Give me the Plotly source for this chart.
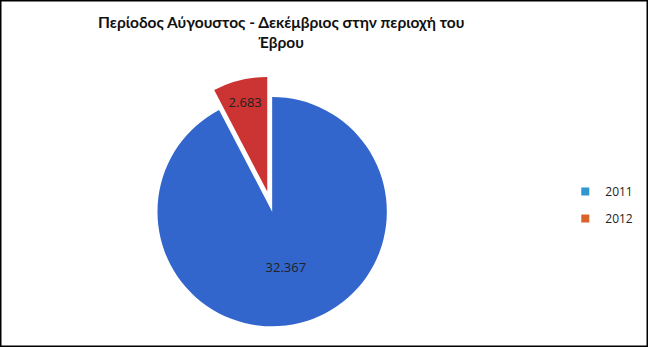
import plotly.graph_objects as go

# Data
years = ["2011", "2012"]
values = [32367, 2683]
slice_colors = ["#3366CC", "#CC3333"]
legend_colors = ["#2E97D0", "#D9622B"]
title_text = "Περίοδος Αύγουστος - Δεκέμβριος στην περιοχή του<br>Έβρου"

fig = go.Figure()

fig.add_trace(go.Pie(
    labels=years,
    values=values,
    sort=False,
    direction="clockwise",
    rotation=0,
    pull=[0, 0.18],
    marker=dict(colors=slice_colors, line=dict(width=0)),
    texttemplate="%{value:,}",
    textposition="inside",
    insidetextorientation="horizontal",
    textfont=dict(family="Open Sans", size=13, color="#222222"),
    hoverinfo="label+value",
    showlegend=False,
    domain=dict(x=[0.18, 0.66], y=[0.0, 0.78]),
))

# legend entries (colors as shown in the reference legend)
for yr, c in zip(years, legend_colors):
    fig.add_trace(go.Scatter(
        x=[None], y=[None], mode="markers", name=yr, legendgroup=yr,
        marker=dict(symbol="square", size=8, color=c),
        showlegend=True,
    ))

fig.update_layout(
    width=648, height=347,
    margin=dict(l=0, r=0, t=0, b=0),
    paper_bgcolor="white", plot_bgcolor="white",
    separators=",.",
    title=dict(
        text=title_text,
        x=0.434, xanchor="center",
        y=0.92, yanchor="top",
        font=dict(family="Lato", size=15.5, color="#111111", weight=700),
    ),
    xaxis=dict(visible=False),
    yaxis=dict(visible=False),
    legend=dict(
        x=0.985, xanchor="right", y=0.49, yanchor="top",
        font=dict(family="Open Sans", size=12, color="#222222"),
        tracegroupgap=8, itemwidth=30,
        bgcolor="rgba(0,0,0,0)",
    ),
    shapes=[dict(
        type="rect", xref="paper", yref="paper",
        x0=0, x1=1, y0=0, y1=1,
        line=dict(color="black", width=3),
    )],
)

fig.write_html("out.html")
